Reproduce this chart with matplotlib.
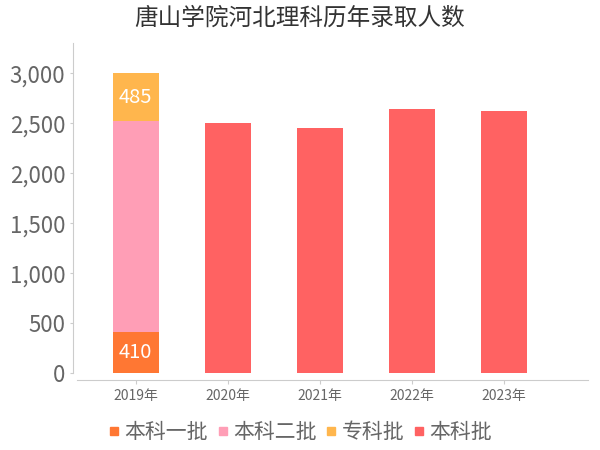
import matplotlib
matplotlib.use("Agg")
import matplotlib.pyplot as plt
from matplotlib.lines import Line2D
from matplotlib.ticker import FuncFormatter
import numpy as np

plt.rcParams['font.family'] = ['Noto Sans CJK SC', 'DejaVu Sans']

# Datos
years = ["2019年", "2020年", "2021年", "2022年", "2023年"]
yiben = [410, 0, 0, 0, 0]          # 本科一批
erben = [2110, 0, 0, 0, 0]         # 本科二批
zhuanke = [485, 0, 0, 0, 0]        # 专科批
benke = [0, 2500, 2450, 2646, 2623]  # 本科批

names = ["本科一批", "本科二批", "专科批", "本科批"]
colors = ["#FF7733", "#FF9EB6", "#FFB64D", "#FF6262"]
show_label = [True, False, True, False]

fig = plt.figure(figsize=(6, 4.5), dpi=100)
ax = fig.add_axes([73 / 600, (450 - 373.3) / 450, 515 / 600, 330.3 / 450])

x = np.arange(len(years))
bottom = np.zeros(len(years))
for serie, name, col, lab in zip([yiben, erben, zhuanke, benke], names, colors, show_label):
    vals = np.array(serie, dtype=float)
    ax.bar(x, vals, width=0.5, bottom=bottom, color=col, label=name, zorder=2)
    if lab:
        for xi, v, b in zip(x, vals, bottom):
            if v > 0:
                ax.text(xi, b + v / 2, str(int(v)), color="white", fontsize=14.5,
                        ha="center", va="center", zorder=3)
    bottom += vals

ax.set_xlim(-0.68, 4.918)
ax.set_ylim(0, 3303)
ax.set_yticks(range(0, 3001, 500))
ax.yaxis.set_major_formatter(FuncFormatter(lambda v, p: f"{int(v):,}"))
ax.set_xticks(x)
ax.set_xticklabels(years)

for s in ["top", "right"]:
    ax.spines[s].set_visible(False)
ax.spines["left"].set_color("#cccccc")
ax.spines["bottom"].set_color("#cccccc")
ax.spines["bottom"].set_position(("outward", 4.5))
ax.spines["bottom"].set_bounds(-0.637, 4.918)

ax.tick_params(axis="y", colors="#cccccc", labelcolor="#666666", labelsize=16,
               length=2.5, pad=3)
ax.tick_params(axis="x", colors="#cccccc", labelcolor="#666666", labelsize=10,
               length=3, pad=4)

fig.text(0.5, (450 - 18) / 450, "唐山学院河北理科历年录取人数", ha="center", va="center",
         fontsize=17, color="#333333")

handles = [Line2D([0], [0], marker="s", linestyle="none", markersize=6,
                  markerfacecolor=c, markeredgecolor=c) for c in colors]
fig.legend(handles, names, loc="center", bbox_to_anchor=(0.5, (450 - 432) / 450),
           ncol=4, frameon=False, fontsize=15, labelcolor="#666666",
           handlelength=0.6, handletextpad=0.2, columnspacing=0.4, borderpad=0)

fig.savefig("out.png", dpi=100)
